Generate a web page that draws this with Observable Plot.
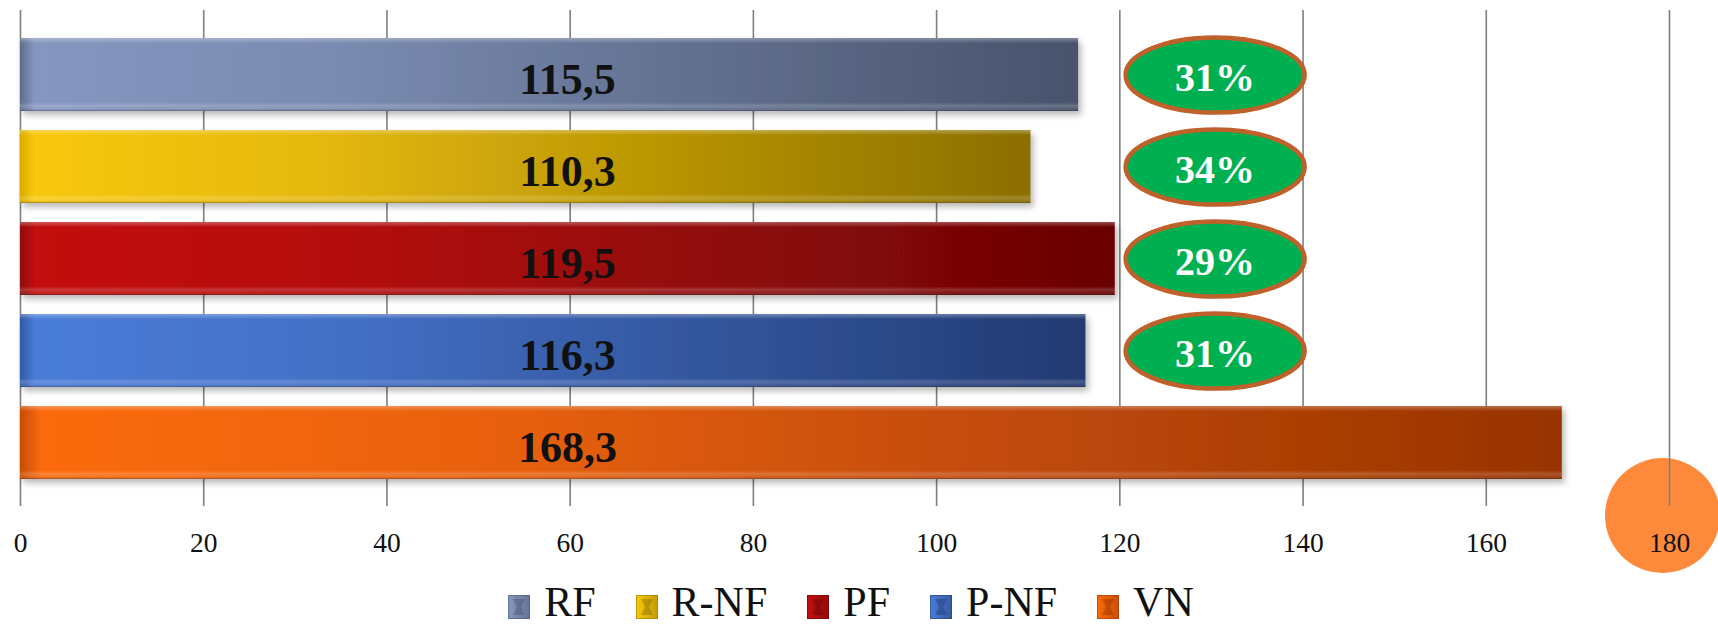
<!DOCTYPE html>
<html>
<head>
<meta charset="utf-8">
<script src="https://cdn.jsdelivr.net/npm/d3@7"></script>
<script src="https://cdn.jsdelivr.net/npm/@observablehq/plot@0.6"></script>
<style>
  html, body { margin: 0; padding: 0; background: #fff; overflow: hidden; height: 626px; }
  #chart { width: 1718px; font-family: "Liberation Serif", "Times New Roman", serif; color: #111; }
  #chart svg { display: block; }
  #legend {
    display: flex; justify-content: center; align-items: flex-start; gap: 40px;
    height: 46px; margin-top: -1px; padding-right: 16px; box-sizing: border-box;
    font: 42px/46px "Liberation Serif", "Times New Roman", serif; color: #111;
  }
  #legend .item { display: flex; align-items: center; gap: 14px; height: 46px; }
  #legend .item svg { display: block; position: relative; top: 5px; }
</style>
</head>
<body>
<div id="chart"></div>
<script>
// Series data
const categories = ["RF", "R-NF", "PF", "P-NF", "VN"];
const values = [115.5, 110.3, 119.5, 116.3, 168.3];
// Shares shown in the green badges (first four series)
const shareCategories = ["RF", "R-NF", "PF", "P-NF"];
const shares = [31, 34, 29, 31];
const xTicks = [0, 20, 40, 60, 80, 100, 120, 140, 160, 180];

// Palette: left edge, light start, dark end of each bar gradient
const edgeColors  = ["#5f6d8e", "#d9a800", "#8d0808", "#2f5aa8", "#c84c04"];
const lightColors = ["#8597c0", "#f8c80a", "#c41010", "#4a7cd8", "#fb6b0b"];
const darkColors  = ["#48536c", "#8a6f02", "#6a0404", "#223a72", "#983305"];

const decimalComma = d3.formatLocale({decimal: ",", thousands: ".", grouping: [3], currency: ["", ""]}).format(".1f");

const rows = categories.map((cat, i) => ({cat, value: values[i], grad: `url(#bar-grad-${i})`}));
const shareRows = shareCategories.map((cat, i) => ({cat, share: shares[i]}));

// Elliptical badge symbol (wider than tall)
const ellipse = {
  draw(context, size) {
    const r = Math.sqrt(size / Math.PI);
    const rx = r * 2.38, ry = r, k = 0.5523;
    context.moveTo(rx, 0);
    context.bezierCurveTo(rx, ry * k, rx * k, ry, 0, ry);
    context.bezierCurveTo(-rx * k, ry, -rx, ry * k, -rx, 0);
    context.bezierCurveTo(-rx, -ry * k, -rx * k, -ry, 0, -ry);
    context.bezierCurveTo(rx * k, -ry, rx, -ry * k, rx, 0);
    context.closePath();
  }
};

const labelX = 59.7;  // value labels sit at a fixed position along x
const badgeX = 130.4; // badge centres

const chart = Plot.plot({
  width: 1718,
  height: 580,
  marginLeft: 20,
  marginRight: 49,
  marginTop: 10,
  marginBottom: 74,
  style: {fontFamily: "'Liberation Serif', 'Times New Roman', serif", background: "transparent", color: "#111"},
  x: {domain: [0, 180]},
  y: {domain: categories, paddingInner: 0.21, paddingOuter: 0.3, axis: null},
  color: {type: "identity"},
  marks: [
    Plot.dotX([180], {x: d => d, frameAnchor: "bottom", dx: -7, dy: 9, r: 57.5, fill: "#fd8a3a"}),
    Plot.gridX(xTicks, {stroke: "#7f7f7f", strokeOpacity: 1, strokeWidth: 1.6}),
    Plot.axisX(xTicks, {tickSize: 0, tickPadding: 26, fontSize: 27.5, fill: "#111", label: null, tickFormat: d => String(d)}),
    Plot.barX(rows, {x: "value", y: "cat", fill: "grad"}),
    Plot.barX(rows, {x: "value", y: "cat", fill: "url(#bar-bevel)"}),
    Plot.text(rows, {x: () => labelX, y: "cat", text: d => decimalComma(d.value), fontSize: 44, fontWeight: "bold", fill: "#111", dy: 5}),
    Plot.dot(shareRows, {x: () => badgeX, y: "cat", symbol: ellipse, r: 37.6, fill: "#00b050", stroke: "#c0602a", strokeWidth: 4.5}),
    Plot.text(shareRows, {x: () => badgeX, y: "cat", text: d => `${d.share}%`, fill: "#ffffff", fontSize: 40, fontWeight: "bold", dy: 3})
  ]
});

// Gradients and shadow used by the bars
const svg = d3.select(chart);
const defs = svg.insert("defs", ":first-child");
categories.forEach((cat, i) => {
  const g = defs.append("linearGradient").attr("id", `bar-grad-${i}`).attr("x1", 0).attr("x2", 1).attr("y1", 0).attr("y2", 0);
  g.append("stop").attr("offset", 0).attr("stop-color", edgeColors[i]);
  g.append("stop").attr("offset", 0.014).attr("stop-color", lightColors[i]);
  g.append("stop").attr("offset", 0.3).attr("stop-color", d3.interpolateRgb(lightColors[i], darkColors[i])(0.18));
  g.append("stop").attr("offset", 1).attr("stop-color", darkColors[i]);
});
const bevel = defs.append("linearGradient").attr("id", "bar-bevel").attr("x1", 0).attr("x2", 0).attr("y1", 0).attr("y2", 1);
[[0, "#fff", 0.3], [0.035, "#fff", 0.16], [0.07, "#fff", 0], [0.88, "#fff", 0], [0.93, "#fff", 0.18],
 [0.965, "#fff", 0.08], [1, "#000", 0.35]].forEach(([o, c, a]) =>
  bevel.append("stop").attr("offset", o).attr("stop-color", c).attr("stop-opacity", a));
defs.append("filter").attr("id", "bar-shadow").attr("x", "-5%").attr("y", "-20%").attr("width", "110%").attr("height", "150%")
  .append("feDropShadow").attr("dx", 3).attr("dy", 4).attr("stdDeviation", 3)
  .attr("flood-color", "#000").attr("flood-opacity", 0.28);
svg.selectAll('g[aria-label="bar"]').filter((d, i) => i === 0).attr("filter", "url(#bar-shadow)");

const root = document.getElementById("chart");
root.appendChild(chart);

// Legend below the plot
const legend = d3.select(root).append("div").attr("id", "legend");
categories.forEach((cat, i) => {
  const item = legend.append("div").attr("class", "item");
  const sw = item.append("svg").attr("width", 22).attr("height", 24);
  const sg = sw.append("defs").append("linearGradient").attr("id", `sw-grad-${i}`).attr("x1", 0).attr("x2", 1);
  sg.append("stop").attr("offset", 0).attr("stop-color", lightColors[i]);
  sg.append("stop").attr("offset", 1).attr("stop-color", d3.interpolateRgb(lightColors[i], darkColors[i])(0.5));
  sw.append("rect").attr("width", 22).attr("height", 24).attr("fill", `url(#sw-grad-${i})`);
  sw.append("path").attr("d", "M5,4 L17,4 L13,12 L17,20 L5,20 L9,12 Z").attr("fill", darkColors[i]).attr("opacity", 0.45);
  sw.append("rect").attr("x", 0.5).attr("y", 0.5).attr("width", 21).attr("height", 23)
    .attr("fill", "none").attr("stroke", darkColors[i]).attr("stroke-opacity", 0.5);
  item.append("span").text(cat);
});
</script>
</body>
</html>
